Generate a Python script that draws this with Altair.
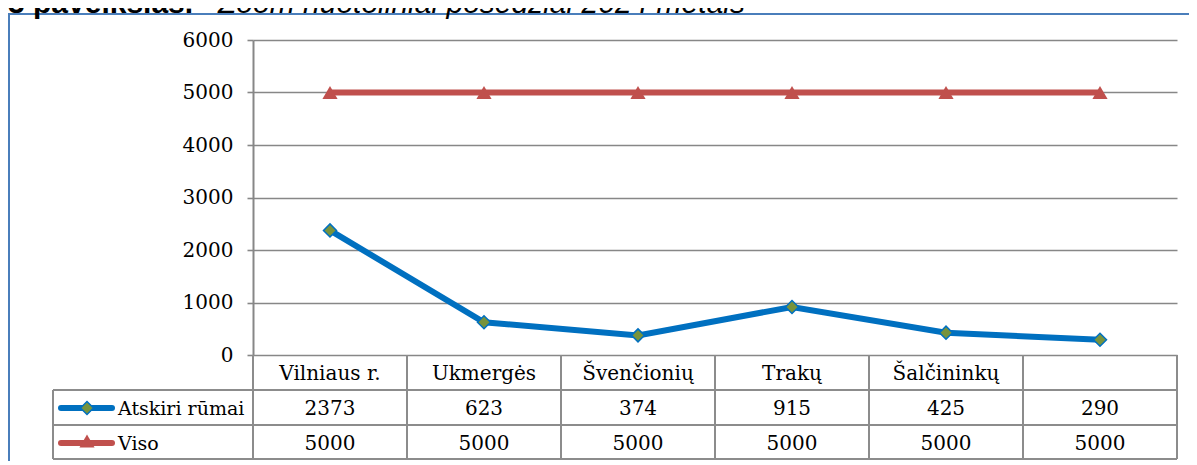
import altair as alt
import pandas as pd

# ---- data ----
categories = ["Vilniaus r.", "Ukmergės", "Švenčionių", "Trakų", "Šalčininkų", ""]
atskiri_rumai = [2373, 623, 374, 915, 425, 290]
viso = [5000, 5000, 5000, 5000, 5000, 5000]
series_names = ["Atskiri rūmai", "Viso"]
y_ticks = [0, 1000, 2000, 3000, 4000, 5000, 6000]
title_bold = "3 paveikslas."
title_italic = "Zoom nuotoliniai posėdžiai 2024 metais"

df = pd.DataFrame({
    "idx": list(range(len(categories))),
    "cat": categories,
    "atskiri": atskiri_rumai,
    "viso": viso,
})

BLUE = "#0070c0"
RED = "#c0504d"
GREEN = "#77933c"
GRID = "#878787"
SERIF = "DejaVu Serif"
FS = 20

W, H = 924, 315

x_enc = alt.X("idx:O", scale=alt.Scale(type="point", padding=0.5), axis=None)
y_scale = alt.Scale(domain=[0, 6000], nice=False)

base = alt.Chart(df)


def one():
    return alt.Chart(pd.DataFrame({"k": [0]}))


# outer frame
frame = one().mark_rect(fillOpacity=0, stroke="#4a7ebb", strokeWidth=2).encode(
    x=alt.value(-244), x2=alt.value(W + 60), y=alt.value(-26), y2=alt.value(H + 200)
)

# title (clipped at the top like the reference)
title1 = one().mark_text(font="Liberation Sans", fontSize=30, fontWeight="bold",
                         align="left", baseline="alphabetic", color="black").encode(
    x=alt.value(-245), y=alt.value(-27), text=alt.value(title_bold))
title2 = one().mark_text(font="Liberation Sans", fontSize=30, fontStyle="italic",
                         align="left", baseline="alphabetic", color="black").encode(
    x=alt.value(-35), y=alt.value(-27), text=alt.value(title_italic))

# lines
red_line = base.mark_line(color=RED, strokeWidth=6).encode(
    x=x_enc,
    y=alt.Y("viso:Q", scale=y_scale,
            axis=alt.Axis(values=y_ticks, grid=True, gridColor=GRID, gridWidth=1.6,
                          domainColor=GRID, domainWidth=2, tickColor=GRID, tickSize=6,
                          tickWidth=1.6, labelFont=SERIF, labelFontSize=FS,
                          labelColor="black", labelPadding=14, title=None, format="d")),
)
red_pts = base.mark_point(shape="triangle-up", filled=True, size=230, color=RED, opacity=1).encode(
    x=x_enc, y=alt.Y("viso:Q", scale=y_scale))
blue_line = base.mark_line(color=BLUE, strokeWidth=6).encode(
    x=x_enc, y=alt.Y("atskiri:Q", scale=y_scale))
blue_pts = base.mark_point(shape="diamond", filled=True, size=170, fill=GREEN,
                           stroke=BLUE, strokeWidth=1.5, opacity=1).encode(
    x=x_enc, y=alt.Y("atskiri:Q", scale=y_scale))

# table grid
TL = "#8c8c8c"
hrule_specs = [(-200, W, 350), (-200, W, 385), (-200, W, 419)]
hrules = [one().mark_rule(color=TL, strokeWidth=2).encode(
    x=alt.value(a), x2=alt.value(b), y=alt.value(c)) for a, b, c in hrule_specs]
vrule_left = one().mark_rule(color=TL, strokeWidth=2).encode(
    x=alt.value(-200), y=alt.value(350), y2=alt.value(419))
vrule_axis = one().mark_rule(color=TL, strokeWidth=2).encode(
    x=alt.value(0), y=alt.value(H), y2=alt.value(419))
vrules = base.mark_rule(color=TL, strokeWidth=2, xOffset=77).encode(
    x=x_enc, y=alt.value(H), y2=alt.value(419))

# table texts
hdr = base.mark_text(font=SERIF, fontSize=FS, baseline="alphabetic", color="black").encode(
    x=x_enc, y=alt.value(340), text="cat:N")
row1 = base.mark_text(font=SERIF, fontSize=FS, baseline="alphabetic", color="black").encode(
    x=x_enc, y=alt.value(375), text="atskiri:Q")
row2 = base.mark_text(font=SERIF, fontSize=FS, baseline="alphabetic", color="black").encode(
    x=x_enc, y=alt.value(410), text="viso:Q")

# legend column inside the table
lab1 = one().mark_text(font=SERIF, fontSize=19, align="left", baseline="alphabetic", color="black").encode(
    x=alt.value(-135), y=alt.value(375), text=alt.value(series_names[0]))
lab2 = one().mark_text(font=SERIF, fontSize=19, align="left", baseline="alphabetic", color="black").encode(
    x=alt.value(-135), y=alt.value(410), text=alt.value(series_names[1]))
key1 = one().mark_rule(color=BLUE, strokeWidth=6, strokeCap="round").encode(
    x=alt.value(-192), x2=alt.value(-141), y=alt.value(368))
key1p = one().mark_point(shape="diamond", filled=True, size=170, fill=GREEN,
                         stroke=BLUE, strokeWidth=1.5, opacity=1).encode(
    x=alt.value(-166), y=alt.value(368))
key2 = one().mark_rule(color=RED, strokeWidth=6, strokeCap="round").encode(
    x=alt.value(-192), x2=alt.value(-141), y=alt.value(403))
key2p = one().mark_point(shape="triangle-up", filled=True, size=230, color=RED, opacity=1).encode(
    x=alt.value(-166), y=alt.value(401))

chart = alt.layer(
    frame, title1, title2,
    *hrules, vrule_left, vrule_axis, vrules,
    red_line, blue_line, red_pts, blue_pts,
    hdr, row1, row2, lab1, lab2, key1, key1p, key2, key2p,
).properties(
    width=W, height=H,
    autosize=alt.AutoSizeParams(type="none"),
    padding={"left": 245, "top": 32, "right": 12, "bottom": 106},
    background="white",
).configure_view(strokeWidth=0)

chart.save("out.html", embed_options={"renderer": "svg", "actions": False})
